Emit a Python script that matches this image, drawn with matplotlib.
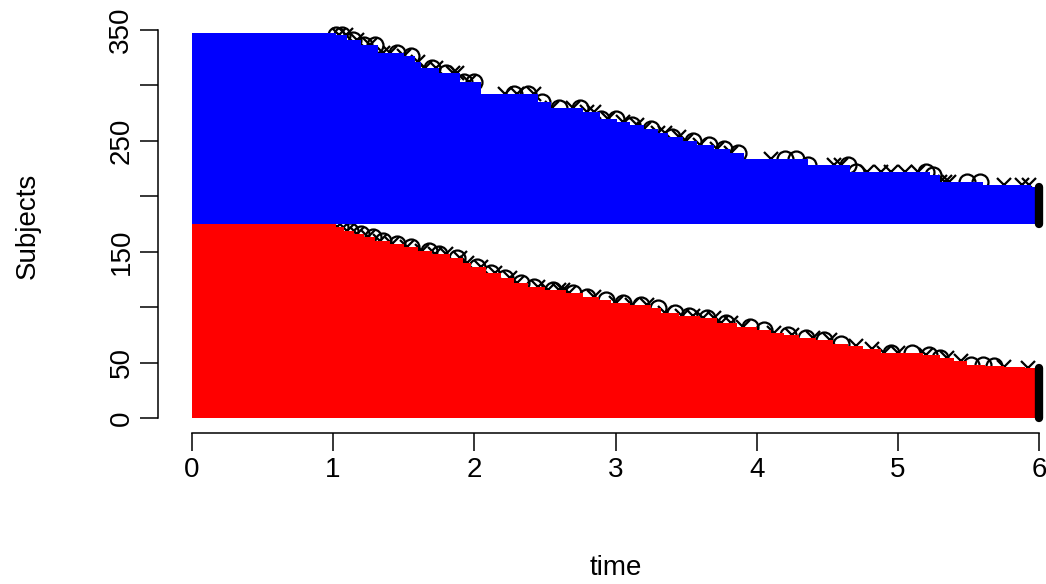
"""Stacked number-at-risk step areas for two groups (R base-graphics look)."""

import matplotlib

matplotlib.use("Agg", force=True)
import matplotlib.pyplot as plt
import numpy as np

plt.rcParams["font.family"] = ["Liberation Sans", "DejaVu Sans"]

# ---- data ------------------------------------------------------------------
T_END = 6.0

red_times = [0.0, 1.02, 1.08, 1.15, 1.22, 1.30, 1.40, 1.50, 1.60, 1.70, 1.83,
             1.92, 1.98, 2.08, 2.19, 2.28, 2.38, 2.50, 2.65, 2.77, 2.88, 2.97,
             3.10, 3.25, 3.32, 3.45, 3.60, 3.72, 3.86, 4.00, 4.10, 4.19, 4.30,
             4.42, 4.54, 4.65, 4.75, 4.88, 5.18, 5.30, 5.40, 5.49, 5.62, 5.75,
             5.90]
red_counts = [175, 172, 169, 166, 163, 160, 157, 154, 151, 148, 144,
              140, 136, 131, 126, 122, 118, 115, 113, 109, 106, 104,
              102, 99, 95, 92, 90, 86, 82, 79, 77, 75, 72,
              70, 67, 65, 62, 59, 57, 54, 51, 48, 47, 46,
              45]

blue_times = [0.0, 1.02, 1.10, 1.20, 1.32, 1.50, 1.58, 1.62, 1.75, 1.90, 2.05,
              2.45, 2.54, 2.77, 2.89, 3.01, 3.10, 3.20, 3.30, 3.37, 3.48, 3.58,
              3.70, 3.81, 3.91, 4.36, 4.66, 5.23, 5.30, 5.60, 5.94]
blue_counts = [172, 170, 166, 161, 154, 151, 146, 141, 136, 128, 117,
               110, 105, 101, 95, 92, 89, 86, 82, 78, 75, 71,
               68, 64, 59, 53, 47, 44, 38, 35, 33]

red_marks_o = [1.05, 1.12, 1.20, 1.28, 1.35, 1.45, 1.55, 1.68, 1.75, 1.88,
               2.02, 2.12, 2.22, 2.33, 2.42, 2.56, 2.70, 2.80, 2.93, 3.05,
               3.18, 3.30, 3.42, 3.52, 3.65, 3.78, 3.95, 4.05, 4.22, 4.35,
               4.48, 4.60, 4.95, 5.10, 5.22, 5.30, 5.52, 5.60, 5.68]
red_marks_x = [1.03, 1.10, 1.17, 1.25, 1.33, 1.42, 1.52, 1.63, 1.72, 1.80,
               1.90, 1.95, 2.05, 2.15, 2.25, 2.30, 2.45, 2.52, 2.60, 2.63,
               2.67, 2.85, 3.00, 3.12, 3.22, 3.35, 3.47, 3.55, 3.62, 3.70,
               3.75, 3.82, 3.90, 4.12, 4.25, 4.40, 4.52, 4.70, 4.82, 4.90,
               5.00, 5.20, 5.35, 5.45, 5.75, 5.92]

blue_marks_o = [1.02, 1.06, 1.14, 1.22, 1.30, 1.45, 1.55, 1.70, 1.80, 1.93,
                2.00, 2.28, 2.38, 2.48, 2.60, 2.75, 2.90, 3.00, 3.12, 3.25,
                3.40, 3.55, 3.66, 3.77, 3.87, 4.20, 4.28, 4.36, 4.65, 4.70,
                5.20, 5.25, 5.49, 5.58]
blue_marks_x = [1.04, 1.09, 1.17, 1.26, 1.35, 1.40, 1.50, 1.60, 1.65, 1.73,
                1.85, 1.88, 1.96, 2.22, 2.30, 2.42, 2.55, 2.70, 2.80, 2.85,
                2.95, 3.05, 3.15, 3.20, 3.30, 3.35, 3.45, 3.50, 3.60, 3.72,
                3.82, 4.10, 4.55, 4.60, 4.78, 4.88, 4.95, 5.05, 5.14, 5.30,
                5.33, 5.36, 5.75, 5.88, 5.93]

x_ticks = [0, 1, 2, 3, 4, 5, 6]
y_ticks = [0, 50, 100, 150, 200, 250, 300, 350]
y_tick_labels = ["0", "50", "", "150", "", "250", "", "350"]


def _step_value(times, counts, t):
    idx = np.searchsorted(np.asarray(times), np.asarray(t), side="right") - 1
    return np.asarray(counts)[idx]


def _extend(times, counts):
    return np.append(times, T_END), np.append(counts, counts[-1])


# ---- figure -----------------------------------------------------------------
fig = plt.figure(figsize=(10.46, 5.84), dpi=100)
red_base = red_counts[0]
top = red_base + blue_counts[0]
ymin, ymax = -0.04 * top, 1.04 * top
ax = fig.add_axes([158 / 1046, 0.2579, 915 / 1046, 0.7116])
ax.set_xlim(-0.04 * T_END, 1.04 * T_END)
ax.set_ylim(ymin, ymax)

rt, rc = _extend(red_times, red_counts)
bt, bc = _extend(blue_times, blue_counts)

# censor / event marks sit under the filled areas, only their tops show
for marks, times, counts, base in (
    (red_marks_o, red_times, red_counts, 0),
    (blue_marks_o, blue_times, blue_counts, red_base),
):
    ax.plot(marks, base + _step_value(times, counts, marks), ls="none",
            marker="o", ms=11.5, mfc="none", mec="black", mew=1.6, zorder=1)
for marks, times, counts, base in (
    (red_marks_x, red_times, red_counts, 0),
    (blue_marks_x, blue_times, blue_counts, red_base),
):
    ax.plot(marks, base + _step_value(times, counts, marks), ls="none",
            marker="x", ms=9.5, mec="black", mew=1.6, zorder=1)

ax.fill_between(rt, 0, rc, step="post", color="#FF0000", lw=0, zorder=2)
ax.fill_between(bt, red_base, red_base + bc, step="post", color="#0000FF",
                lw=0, zorder=2)

# thick end-of-follow-up bars
ax.plot([T_END, T_END], [0, rc[-1]], color="black", lw=6,
        solid_capstyle="round", zorder=3)
ax.plot([T_END, T_END], [red_base, red_base + bc[-1]], color="black", lw=6,
        solid_capstyle="round", zorder=3)

for side in ("top", "right"):
    ax.spines[side].set_visible(False)
ax.spines["left"].set_bounds(0, 350)
ax.spines["bottom"].set_bounds(0, 6)
for side in ("left", "bottom"):
    ax.spines[side].set_linewidth(1.1)

ax.set_xticks(x_ticks)
ax.set_xticklabels([str(v) for v in x_ticks])
ax.set_yticks(y_ticks)
ax.set_yticklabels(y_tick_labels, rotation=90, va="center")
ax.tick_params(direction="out", length=13, width=1.1, labelsize=20)
ax.tick_params(axis="x", pad=4)
ax.tick_params(axis="y", pad=4)

ax.set_xlabel("time", fontsize=20)
ax.set_ylabel("Subjects", fontsize=20)
ax.xaxis.set_label_coords(0.5, -0.324)
ax.yaxis.set_label_coords(-0.1425, 0.5)
ax.xaxis.label.set_va("center")
ax.yaxis.label.set_va("center")

fig.savefig("out.png", dpi=100)
